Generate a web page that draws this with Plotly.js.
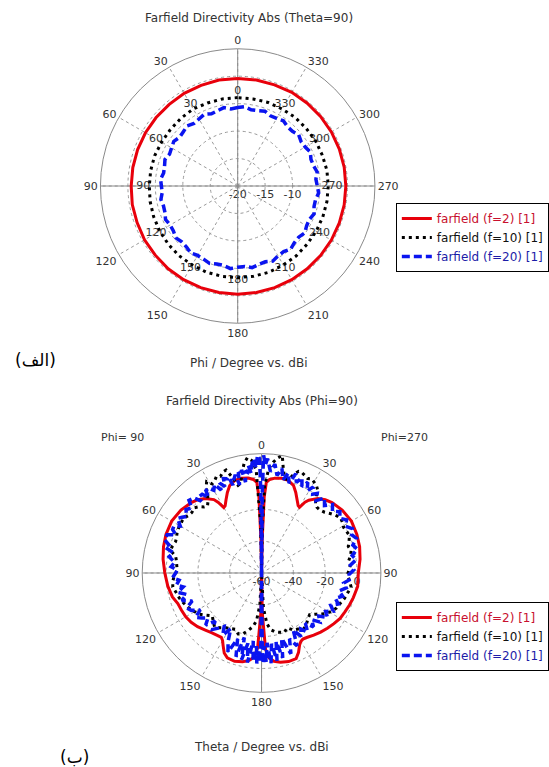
<!DOCTYPE html>
<html><head><meta charset="utf-8">
<script src="https://cdn.plot.ly/plotly-3.0.1.min.js"></script>
<style>html,body{margin:0;padding:0;background:#fff}#chart{width:549px;height:767px}</style>
</head><body><div id="chart"></div>
<script>
// ===== Top plot: Farfield Directivity Abs (Theta=90), Phi sweep =====
const topPhi10 = [0,10,20,30,40,50,60,70,80,90,100,110,120,130,140,150,160,170,180,190,200,210,220,230,240,250,260,270,280,290,300,310,320,330,340,350,360];
const topF2 = [-0.4,-0.4,-0.5,-0.5,-0.6,-0.6,-0.6,-0.6,-0.6,-0.6,-0.5,-0.5,-0.4,-0.4,-0.3,-0.3,-0.3,-0.3,-0.3,-0.3,-0.3,-0.3,-0.3,-0.3,-0.3,-0.3,-0.3,-0.3,-0.3,-0.3,-0.3,-0.3,-0.3,-0.3,-0.4,-0.4,-0.4];
const topF10 = [-3.9,-3.9,-3.9,-3.8,-3.9,-4.0,-4.0,-3.9,-3.9,-3.9,-3.8,-3.7,-3.6,-3.5,-3.4,-3.4,-3.3,-3.3,-3.3,-3.3,-3.3,-3.4,-3.4,-3.5,-3.5,-3.5,-3.5,-3.5,-3.5,-3.6,-3.6,-3.7,-3.7,-3.8,-3.8,-3.9,-3.9];
const topPhi5 = [0,5,10,15,20,25,30,35,40,45,50,55,60,65,70,75,80,85,90,95,100,105,110,115,120,125,130,135,140,145,150,155,160,165,170,175,180,185,190,195,200,205,210,215,220,225,230,235,240,245,250,255,260,265,270,275,280,285,290,295,300,305,310,315,320,325,330,335,340,345,350,355,360];
const topF20 = [-5.7,-5.9,-5.5,-5.8,-6.0,-5.6,-5.9,-6.1,-5.7,-6.0,-6.2,-5.8,-6.1,-6.3,-5.9,-6.2,-6.3,-5.9,-6.1,-6.2,-5.8,-6.0,-5.9,-5.5,-5.8,-5.7,-5.3,-5.6,-5.5,-5.1,-5.4,-5.3,-5.0,-5.3,-5.3,-4.9,-5.2,-5.3,-4.9,-5.2,-5.3,-4.9,-5.3,-5.4,-5.0,-5.4,-5.5,-5.1,-5.5,-5.6,-5.2,-5.6,-5.6,-5.2,-5.5,-5.7,-5.3,-5.7,-5.8,-5.4,-5.8,-5.9,-5.5,-5.9,-5.9,-5.5,-5.8,-5.9,-5.5,-5.8,-5.9,-5.5,-5.7];
const topRadRange = [-20, 5];
const topRadTicks = [-20,-15,-10,-5,0];
const topRadText = ['-20','-15','-10','',''];
const topInnerLabelR = -2.8;

// ===== Bottom plot: Farfield Directivity Abs (Phi=90), Theta sweep =====
const botThetaF2 = [0,1,2,3,5,8,12,16,20,23,26,28.5,30,31.5,33,37,41,45,52,60,68,75,82,90,98,105,110,115,120,125,130,135,140,145,148,150,152,155,158,163,168,172,175,177,179,180,
  181,183,185,188,192,197,202,205,208,210,212,215,220,225,230,235,240,245,250,255,262,270,278,285,292,300,308,315,319,323,327,328.5,330,331.5,334,337,340,344,348,352,355,357,358,359,360];
const botF2 = [-60,-40,-12,-3,-1,0.3,0.9,0.6,-1.5,-5,-9,-12,-12.5,-8,-5,-1.3,1,2.5,4.3,5.2,4.8,3.8,2.5,0.8,-0.5,-2,-4,-4.5,-5,-6,-7.5,-9.5,-11,-12,-12.3,-11,-8.5,-4.5,-2.5,-2,-3,-4.5,-7,-13,-35,-60,
  -35,-12,-6.5,-4,-2.6,-1.8,-2,-5,-9,-10.5,-11,-10.5,-9,-7.5,-6,-4.5,-3,-2.2,-1.2,-0.3,1,0.8,2.5,3.8,4.6,5.2,4.3,2.6,1,-1.3,-5.5,-7.8,-12.3,-11.8,-9,-5,-1.4,0.6,0.9,0.2,-1,-3,-12,-40,-60];
const botThetaF10 = [0,1,3,5,7,9,11,13,15,17,19,21,23,25,27,29,31,33,35,37,39,41,43,46,49,52,55,58,61,64,67,70,73,76,79,82,85,88,91,95,99,103,107,111,115,119,123,127,131,135,139,143,147,151,155,159,163,167,171,174,177,180,
  183,186,189,193,197,201,205,209,213,217,221,225,229,233,237,241,245,249,253,257,261,265,269,272,275,278,281,284,287,290,293,296,299,302,305,308,311,314,317,320,322,324,326,328,330,332,334,336,338,340,342,344,346,348,350,352,354,356,358,359,360];
const botF10 = [-60,-30,5,11,13,10,4,-2,-3,3,8.5,8,6,7,5,4,7,4,-1,-4,-6,-5,-3,-1,-2,-1.5,0,-0.5,-0.6,-1,-2,-2.5,-1.5,-1,-5,-6,-6.5,-7,-5.5,-4,-3.5,-5,-6,-7.5,-9,-11,-12.7,-16,-19,-17,-15,-17,-19,-20,-21,-19,-20,-23,-26,-30,-40,-60,
  -38,-28,-24,-22,-21,-20,-22,-19,-18,-16,-17,-19,-20,-17,-13,-10,-8,-7,-5.5,-4.5,-3,-4.5,-6,-5,-4,-4.7,-3,-2,-3,-1.5,0,-0.5,-1,0,0.5,-1,-3,-5,-6,-6,-5,-2,3,5,6,7,6,7,8,8,5,1,1,6,15,13,10,6,-5,-30,-60];
const botThetaF20 = [0,0.5,1,2,3,4,5,6,7,8,9,10,11,12,13,14,15,16,17,18,19,20,22,23,25,26,28,30,32,34,35,37,39,40,42,45,47,50,53,55,57,60,62,64,66,68,71,73,75,77,80,83,86,88,90,93,95,98,100,103,106,109,112,115,118,121,124,127,130,133,136,139,142,145,148,151,154,157,160,163,165,167,169,171,173,174.5,176,177,178,179,179.5,180,
  180.5,181,182,183,184.5,186,188,190,192,194,197,200,203,206,209,212,215,218,221,224,227,230,233,236,239,242,245,248,251,254,257,260,263,266,269,272,275,278,281,284,287,290,293,296,299,302,305,308,311,314,317,320,323,325,327,329,331,333,335,337,339,341,343,345,347,349,351,353,355,357,358,359,359.5,360];
const botF20 = [-60,-10,12,14,6,12,9,3,8,4,5,-2,6,3,5,-3,4,2,1,-2,4,3,4,-1,2.3,-2,3,0,3,2.5,-2,2,2,-1,3.5,4.5,0,2,-1,1,3,-1,2.5,2.2,-1,4,4.5,1,3,-3,-1,-5,-3,-7,-6,-4,-8,-6,-10,-6,-11,-7,-13,-8,-10,-15,-10,-13,-16,-12,-18,-13,-16,-19,-14,-20,-12,-6,-16,-5,-18,-4,-15,-3,-17,-4,-14,-3,-12,-4,-18,-60,
  -20,-3,-14,-4,-16,-3,-15,-4,-16,-5,-17,-6,-15,-9,-19,-13,-17,-13,-18,-13,-17,-12,-15,-10,-13,-9,-12,-8,-11,-7,-10,-6,-8,-4,-5,-2,-4,0,-2,2,0,3.5,1.5,3.5,0.5,3,0,2.5,-1,2,-2,1.5,-3,1,-1,3,-1,4,0,5,1,6,-1,5,0,7,2,9,4,12,8,14,-10,-60];
const botRadRange = [-60, 15];
const botRadTicks = [-60,-40,-20,0];
const botRadText = ['-60','-40','-20','0'];

// ===== Shared labels =====
const angTicks = [0,30,60,90,120,150,180,210,240,270,300,330];
const topAngText = ['0','30','60','90','120','150','180','210','240','270','300','330'];
const botAngText = ['0','30','60','90','120','150','180','150','120','90','60','30'];
const seriesNames = ['farfield (f=2) [1]','farfield (f=10) [1]','farfield (f=20) [1]'];
const seriesText = ['#c8102e','#111111','#1c1ca8'];

const FONT = 'DejaVu Sans, Verdana, sans-serif';
const RED = '#e8000b', BLK = '#000000', BLU = '#0a14f0';
const GRID = '#9a9a9a', AXL = '#8a8a8a';

function crossTraces(sub, range) {
  const lo = range[0], hi = range[1];
  return [
    {type:'scatterpolar', subplot:sub, r:[hi,lo,hi], theta:[0,0,180], mode:'lines', line:{color:AXL,width:1}, showlegend:false, hoverinfo:'skip'},
    {type:'scatterpolar', subplot:sub, r:[hi,lo,hi], theta:[90,90,270], mode:'lines', line:{color:AXL,width:1}, showlegend:false, hoverinfo:'skip'}
  ];
}
function legendName(i){ return '<span style="color:' + seriesText[i] + '">' + seriesNames[i] + '</span>'; }

const traces = [];
traces.push(...crossTraces('polar', topRadRange));
traces.push({type:'scatterpolar', subplot:'polar', r: angTicks.map(() => topInnerLabelR), theta: angTicks, text: topAngText,
  mode:'text', textfont:{family:FONT,size:11,color:'#333'}, showlegend:false, hoverinfo:'skip'});
traces.push({type:'scatterpolar', subplot:'polar', r:topF2, theta:topPhi10, mode:'lines', name:legendName(0), legend:'legend',
  line:{color:RED,width:3}});
traces.push({type:'scatterpolar', subplot:'polar', r:topF10, theta:topPhi10, mode:'lines', name:legendName(1), legend:'legend',
  line:{color:BLK,width:3,dash:'3px,4px'}});
traces.push({type:'scatterpolar', subplot:'polar', r:topF20, theta:topPhi5, mode:'lines', name:legendName(2), legend:'legend',
  line:{color:BLU,width:3.5,dash:'8px,4px'}});

traces.push(...crossTraces('polar2', botRadRange));
traces.push({type:'scatterpolar', subplot:'polar2', r:botF2, theta:botThetaF2, mode:'lines', name:legendName(0), legend:'legend2',
  line:{color:RED,width:3}});
traces.push({type:'scatterpolar', subplot:'polar2', r:botF10, theta:botThetaF10, mode:'lines', name:legendName(1), legend:'legend2',
  line:{color:BLK,width:3,dash:'3px,4px'}});
traces.push({type:'scatterpolar', subplot:'polar2', r:botF20, theta:botThetaF20, mode:'lines', name:legendName(2), legend:'legend2',
  line:{color:BLU,width:3.5,dash:'8px,4px'}});

function polarCfg(domX, domY, range, rt, rtt, att) {
  return {
    domain:{x:domX, y:domY}, bgcolor:'rgba(0,0,0,0)',
    radialaxis:{range:range, tickvals:rt, ticktext:rtt, angle:0, side:'clockwise', showline:false, ticks:'',
      showgrid:true, gridcolor:GRID, griddash:'dot', gridwidth:1, layer:'below traces',
      tickfont:{family:FONT,size:11,color:'#333'}},
    angularaxis:{rotation:90, direction:'counterclockwise', tickvals:angTicks, ticktext:att, ticks:'',
      showline:true, linecolor:AXL, linewidth:1, showgrid:true, gridcolor:GRID, griddash:'dot', gridwidth:1,
      layer:'below traces', tickfont:{family:FONT,size:11,color:'#333'}}
  };
}
const W = 549, H = 767;
const px = v => v / W, py = v => 1 - v / H;

const layout = {
  width:W, height:H, margin:{l:0,r:0,t:0,b:0}, paper_bgcolor:'#fff', plot_bgcolor:'#fff',
  hovermode:false, showlegend:true,
  polar: polarCfg([px(101), px(377)], [py(324), py(48)], topRadRange, topRadTicks, topRadText, topAngText),
  polar2: polarCfg([px(143), px(383)], [py(693), py(453)], botRadRange, botRadTicks, botRadText, botAngText),
  legend:{x:px(398), y:py(203), xanchor:'left', yanchor:'top', bgcolor:'#fff', bordercolor:'#000', borderwidth:1,
    font:{family:FONT,size:12,color:'#111'}, itemwidth:30, tracegroupgap:0},
  legend2:{x:px(398), y:py(602), xanchor:'left', yanchor:'top', bgcolor:'#fff', bordercolor:'#000', borderwidth:1,
    font:{family:FONT,size:12,color:'#111'}, itemwidth:30, tracegroupgap:0},
  annotations:[
    {text:'Farfield Directivity Abs (Theta=90)', x:px(250), y:py(18), xref:'paper', yref:'paper', showarrow:false, xanchor:'center', yanchor:'middle', font:{family:FONT,size:12,color:'#333'}},
    {text:'Phi / Degree vs. dBi', x:px(250), y:py(363), xref:'paper', yref:'paper', showarrow:false, xanchor:'center', yanchor:'middle', font:{family:FONT,size:12,color:'#333'}},
    {text:'Farfield Directivity Abs (Phi=90)', x:px(263), y:py(401), xref:'paper', yref:'paper', showarrow:false, xanchor:'center', yanchor:'middle', font:{family:FONT,size:12,color:'#333'}},
    {text:'Theta / Degree vs. dBi', x:px(263), y:py(747), xref:'paper', yref:'paper', showarrow:false, xanchor:'center', yanchor:'middle', font:{family:FONT,size:12,color:'#333'}},
    {text:'Phi= 90', x:px(123), y:py(437), xref:'paper', yref:'paper', showarrow:false, xanchor:'center', yanchor:'middle', font:{family:FONT,size:11,color:'#333'}},
    {text:'Phi=270', x:px(407), y:py(437), xref:'paper', yref:'paper', showarrow:false, xanchor:'center', yanchor:'middle', font:{family:FONT,size:11,color:'#333'}},
    {text:'(الف)', x:px(36), y:py(360), xref:'paper', yref:'paper', showarrow:false, xanchor:'center', yanchor:'middle', font:{family:FONT,size:17,color:'#000'}},
    {text:'(ب)', x:px(75), y:py(757), xref:'paper', yref:'paper', showarrow:false, xanchor:'center', yanchor:'middle', font:{family:FONT,size:17,color:'#000'}}
  ]
};
Plotly.newPlot('chart', traces, layout, {staticPlot:true, displayModeBar:false});
</script>
</body></html>
